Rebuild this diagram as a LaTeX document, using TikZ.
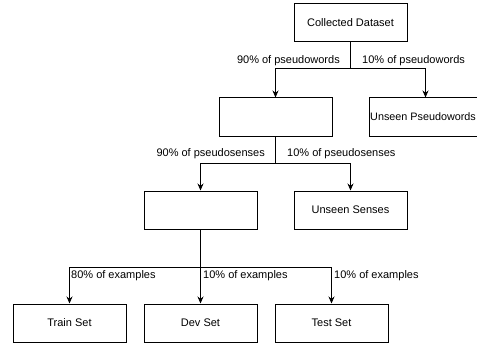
\documentclass[tikz,border=0pt]{standalone}
\usepackage{fontspec}
\setmainfont{Liberation Sans}
\usetikzlibrary{arrows.meta}

\begin{document}
\begin{tikzpicture}[x=1pt, y=-1pt,
    box/.style={draw, line width=1pt, minimum width=113pt, minimum height=38pt, inner sep=0pt, font=\fontsize{11}{13}\selectfont},
    lbl/.style={inner sep=0pt, font=\fontsize{11}{13}\selectfont},
    link/.style={line width=1pt, -{Stealth[length=7pt,width=6pt]}}]
            \useasboundingbox (0,0) rectangle (477,345);
            % boxes
            \node[box] (dataset)      at (350.5, 23) {Collected Dataset};
            \node[box] (seenwords)    at (275.5,117) {};
            \node[box] (unseenwords)  at (425.5,117) {};
            \node[box] (seensenses)   at (200.5,210) {};
            \node[box] (unseensenses) at (350.5,210) {Unseen Senses};
            \node[box] (train)        at ( 69.5,323) {Train Set};
            \node[box] (dev)          at (200.5,323) {Dev Set};
            \node[box] (test)         at (331.5,323) {Test Set};
            % text of the clipped box, kept inside the page
            \node[lbl, anchor=west, font=\fontsize{10.8}{13}\selectfont] (unseenwordstext)
                 at ([xshift=1.5pt]unseenwords.west) {Unseen Pseudowords};
            % split points
            \coordinate (wordsplit)  at (350.5, 69);
            \coordinate (sensesplit) at (275.5,163);
            \coordinate (examsplit)  at (200.5,267);
            % connectors
            \draw[line width=1pt] (dataset.south) -- (wordsplit);
            \draw[link] (wordsplit) -| (seenwords.north);
            \draw[link] (wordsplit) -| (unseenwords.north);
            \draw[line width=1pt] (seenwords.south) -- (sensesplit);
            \draw[link] (sensesplit) -| (seensenses.north);
            \draw[link] (sensesplit) -| (unseensenses.north);
            \draw[link] (seensenses.south) -- (dev.north);
            \draw[link] (examsplit) -| (train.north);
            \draw[link] (examsplit) -| (test.north);
            % labels
            \node[lbl, anchor=east] (wordsin)   at (340, 61) {90\% of pseudowords};
            \node[lbl, anchor=west] (wordsout)  at (362, 61) {10\% of pseudowords};
            \node[lbl, anchor=east] (sensesin)  at (265,154) {90\% of pseudosenses};
            \node[lbl, anchor=west] (sensesout) at (287,154) {10\% of pseudosenses};
            \node[lbl, anchor=west] (trainpart) at ( 71,276) {80\% of examples};
            \node[lbl, anchor=west] (devpart)   at (203,276) {10\% of examples};
            \node[lbl, anchor=west] (testpart)  at (334,276) {10\% of examples};
        \end{tikzpicture}
\end{document}
